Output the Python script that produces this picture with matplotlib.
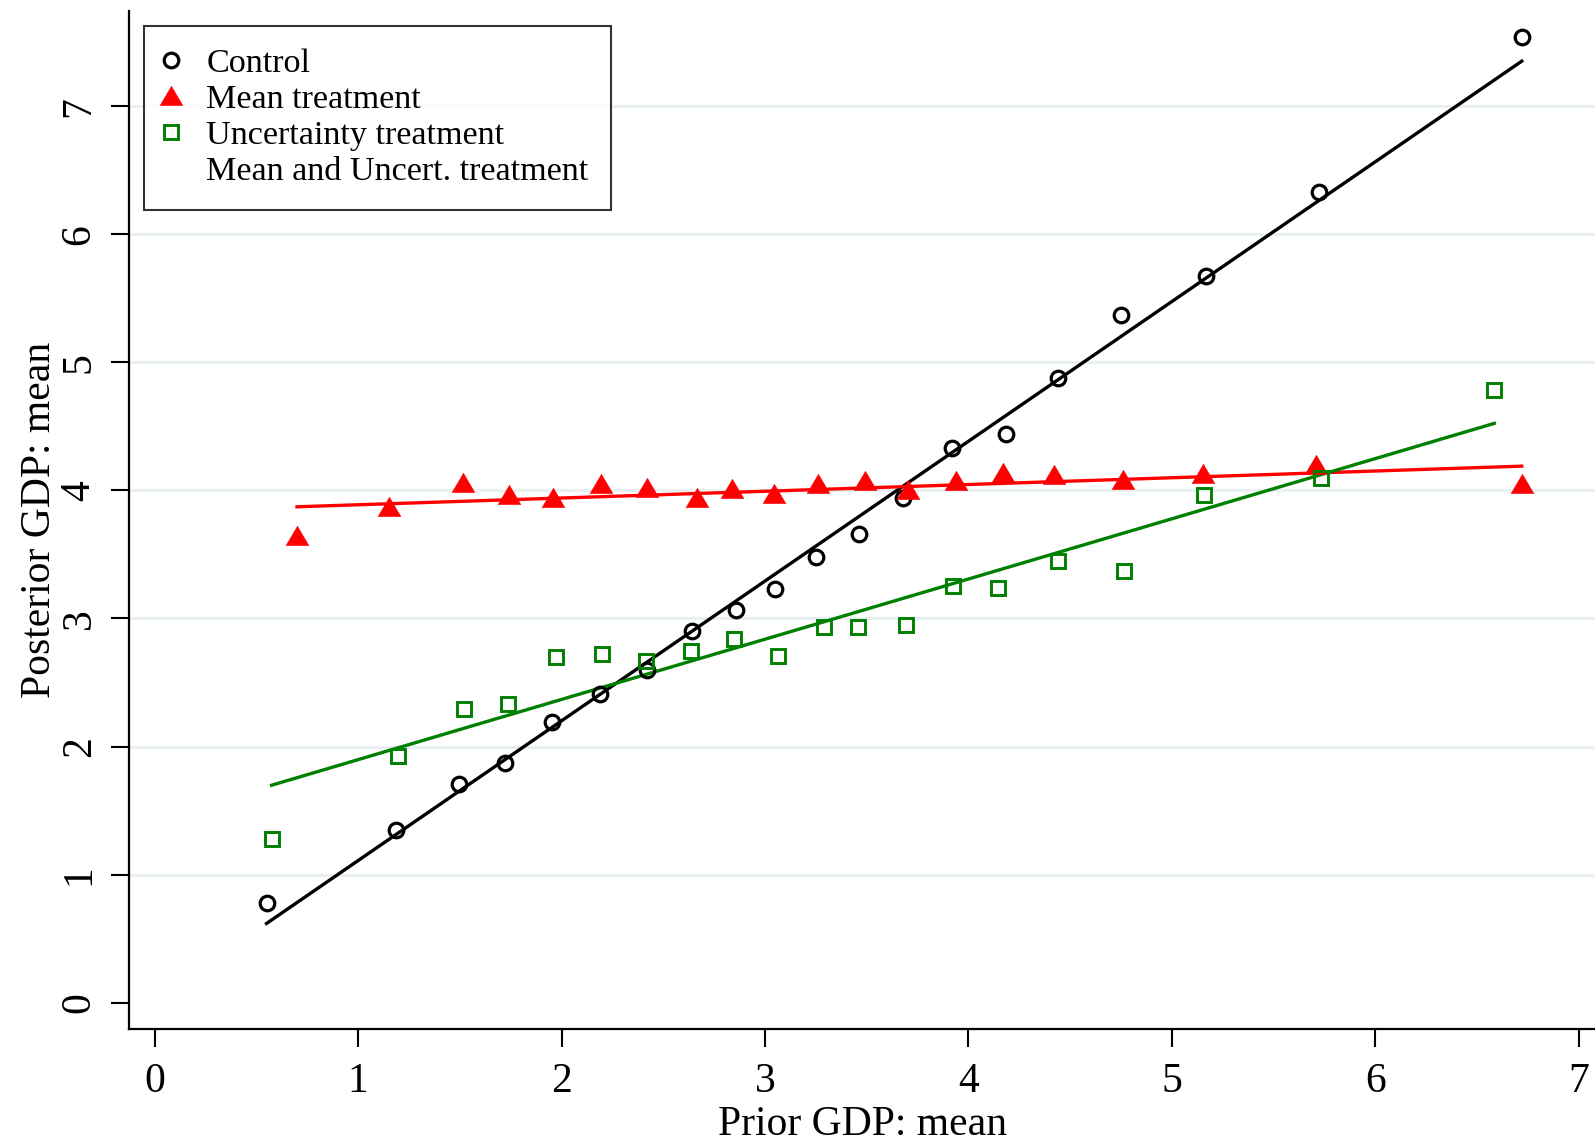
import matplotlib
matplotlib.use("Agg")
import matplotlib.pyplot as plt
from matplotlib.lines import Line2D
from matplotlib.path import Path
import numpy as np

plt.rcParams['font.family'] = ['Liberation Serif', 'DejaVu Serif']

# ---- data ----
control_x = [0.55, 1.185, 1.495, 1.72, 1.955, 2.19, 2.42, 2.64, 2.86, 3.05,
             3.25, 3.46, 3.68, 3.92, 4.185, 4.44, 4.75, 5.17, 5.725, 6.72]
control_y = [0.78, 1.35, 1.71, 1.87, 2.19, 2.41, 2.60, 2.90, 3.07, 3.23,
             3.48, 3.66, 3.94, 4.33, 4.44, 4.88, 5.37, 5.675, 6.33, 7.54]

mean_x = [0.70, 1.15, 1.515, 1.74, 1.96, 2.195, 2.42, 2.665, 2.84, 3.045,
          3.26, 3.49, 3.705, 3.94, 4.17, 4.42, 4.76, 5.155, 5.71, 6.72]
mean_y = [3.64, 3.87, 4.06, 3.96, 3.94, 4.05, 4.02, 3.94, 4.01, 3.97,
          4.05, 4.07, 4.00, 4.07, 4.135, 4.12, 4.08, 4.13, 4.20, 4.05]

unc_x = [0.575, 1.195, 1.52, 1.735, 1.975, 2.20, 2.415, 2.635, 2.85, 3.065,
         3.29, 3.455, 3.695, 3.925, 4.145, 4.44, 4.765, 5.16, 5.735, 6.585]
unc_y = [1.28, 1.93, 2.29, 2.33, 2.70, 2.72, 2.67, 2.75, 2.84, 2.71,
         2.93, 2.93, 2.95, 3.25, 3.24, 3.45, 3.37, 3.96, 4.10, 4.78]

# fitted lines (intercept, slope)
control_fit = (0.019, 1.091)
mean_fit = (3.835, 0.0527)
unc_fit = (1.428, 0.470)

series_labels = ["Control", "Mean treatment", "Uncertainty treatment",
                 "Mean and Uncert. treatment"]
x_ticks = [0, 1, 2, 3, 4, 5, 6, 7]
y_ticks = [0, 1, 2, 3, 4, 5, 6, 7]
x_label = "Prior GDP: mean"
y_label = "Posterior GDP: mean"

# ---- figure ----
fig = plt.figure(figsize=(15.95, 11.42), dpi=100)
ax = fig.add_axes([0.0810, 0.0988, 0.919, 0.892])
ax.set_xlim(-0.125, 7.08)
ax.set_ylim(-0.206, 7.746)

grid_color = '#e9f0f2'
for yt in y_ticks[1:]:
    ax.axhline(yt, color=grid_color, lw=2.2, zorder=0)

def fit_line(xs, fit, color):
    xx = np.array([min(xs), max(xs)])
    ax.plot(xx, fit[0] + fit[1] * xx, color=color, lw=2.4, zorder=2)

black = '#000000'
red = '#ff0000'
green = '#008000'

tri = Path([(-0.5, -0.4), (0.5, -0.4), (0.0, 0.45), (-0.5, -0.4)],
           [Path.MOVETO, Path.LINETO, Path.LINETO, Path.CLOSEPOLY])

circ_kw = dict(marker='o', ms=10.5, mfc='none', mec=black, mew=2.3)
tri_kw = dict(marker=tri, ms=16.5, mfc=red, mec=red, mew=0.3)
sq_kw = dict(marker='s', ms=10, mfc='none', mec=green, mew=2.1)

ax.plot(control_x, control_y, ls='none', zorder=3, **circ_kw)
ax.plot(mean_x, mean_y, ls='none', zorder=3, **tri_kw)
ax.plot(unc_x, unc_y, ls='none', zorder=3, **sq_kw)

fit_line(control_x, control_fit, black)
fit_line(mean_x, mean_fit, red)
fit_line(unc_x, unc_fit, green)

# axes styling
for s in ['top', 'right']:
    ax.spines[s].set_visible(False)
for s in ['left', 'bottom']:
    ax.spines[s].set_linewidth(1.6)
ax.set_xticks(x_ticks)
ax.set_yticks(y_ticks)
ax.tick_params(axis='both', direction='out', length=13, width=1.5,
               labelsize=30)
ax.tick_params(axis='x', pad=11)
ax.tick_params(axis='y', pad=9)
for lab in ax.get_yticklabels():
    lab.set_rotation(90)
    lab.set_va('center')
ax.set_xlabel(x_label, fontsize=30, labelpad=3)
ax.set_ylabel(y_label, fontsize=30, labelpad=1)

handles = [
    Line2D([], [], ls='none', **circ_kw),
    Line2D([], [], ls='none', **tri_kw),
    Line2D([], [], ls='none', **sq_kw),
    Line2D([], [], ls='none', marker=None),
]
leg = ax.legend(handles, series_labels, loc='upper left',
                bbox_to_anchor=(0.0104, 0.985), fontsize=24.6,
                frameon=True, fancybox=False, edgecolor='black',
                handlelength=0.25, handletextpad=0.9, labelspacing=0.15,
                borderpad=0.66, borderaxespad=0.0)
leg.get_frame().set_linewidth(1.5)

fig.savefig("out.png", dpi=100)
